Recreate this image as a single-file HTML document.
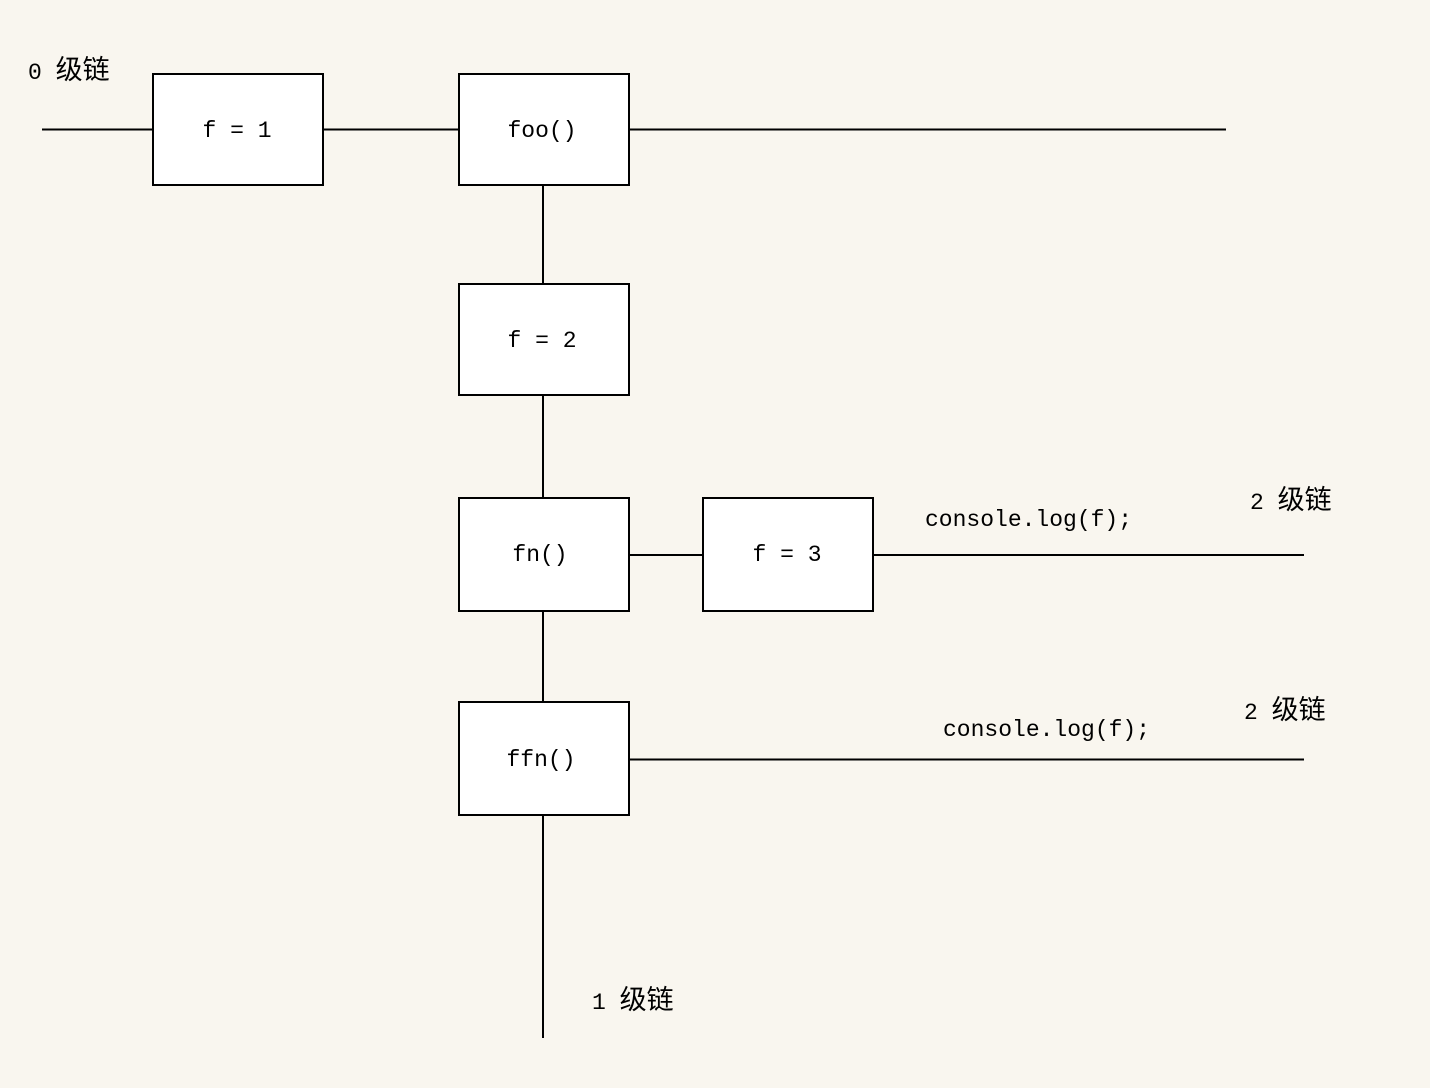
<!DOCTYPE html>
<html><head><meta charset="utf-8"><style>
html,body{margin:0;padding:0;background:#f9f6ef;}
svg{display:block;}
text{font-family:"Liberation Mono","WenQuanYi Zen Hei",monospace;font-size:23px;fill:#000;}
.c{font-size:27px;}
</style></head><body>
<svg width="1430" height="1088" viewBox="0 0 1430 1088">
<rect width="1430" height="1088" fill="#f9f6ef"/>
<g stroke="#000" stroke-width="2" fill="none">
<line x1="42" y1="129.5" x2="152" y2="129.5"/>
<line x1="323" y1="129.5" x2="458" y2="129.5"/>
<line x1="629" y1="129.5" x2="1226" y2="129.5"/>
<line x1="543" y1="185" x2="543" y2="283"/>
<line x1="543" y1="395" x2="543" y2="497"/>
<line x1="543" y1="611" x2="543" y2="701"/>
<line x1="543" y1="815" x2="543" y2="1038"/>
<line x1="629" y1="555" x2="702" y2="555"/>
<line x1="873" y1="555" x2="1304" y2="555"/>
<line x1="629" y1="759.5" x2="1304" y2="759.5"/>
</g>
<g stroke="#000" stroke-width="2" fill="#fff">
<rect x="153" y="74" width="170" height="111"/>
<rect x="459" y="74" width="170" height="111"/>
<rect x="459" y="284" width="170" height="111"/>
<rect x="459" y="498" width="170" height="113"/>
<rect x="703" y="498" width="170" height="113"/>
<rect x="459" y="702" width="170" height="113"/>
</g>
<g text-anchor="middle">
<text x="237" y="137">f = 1</text>
<text x="542" y="137">foo()</text>
<text x="542" y="347">f = 2</text>
<text x="540" y="561">fn()</text>
<text x="787" y="561">f = 3</text>
<text x="541" y="766">ffn()</text>
</g>
<text x="28" y="79">0 <tspan class="c">级链</tspan></text>
<text x="925" y="526">console.log(f);</text>
<text x="1250" y="509">2 <tspan class="c">级链</tspan></text>
<text x="943" y="736">console.log(f);</text>
<text x="1244" y="719">2 <tspan class="c">级链</tspan></text>
<text x="592" y="1009">1 <tspan class="c">级链</tspan></text>
</svg>
</body></html>
